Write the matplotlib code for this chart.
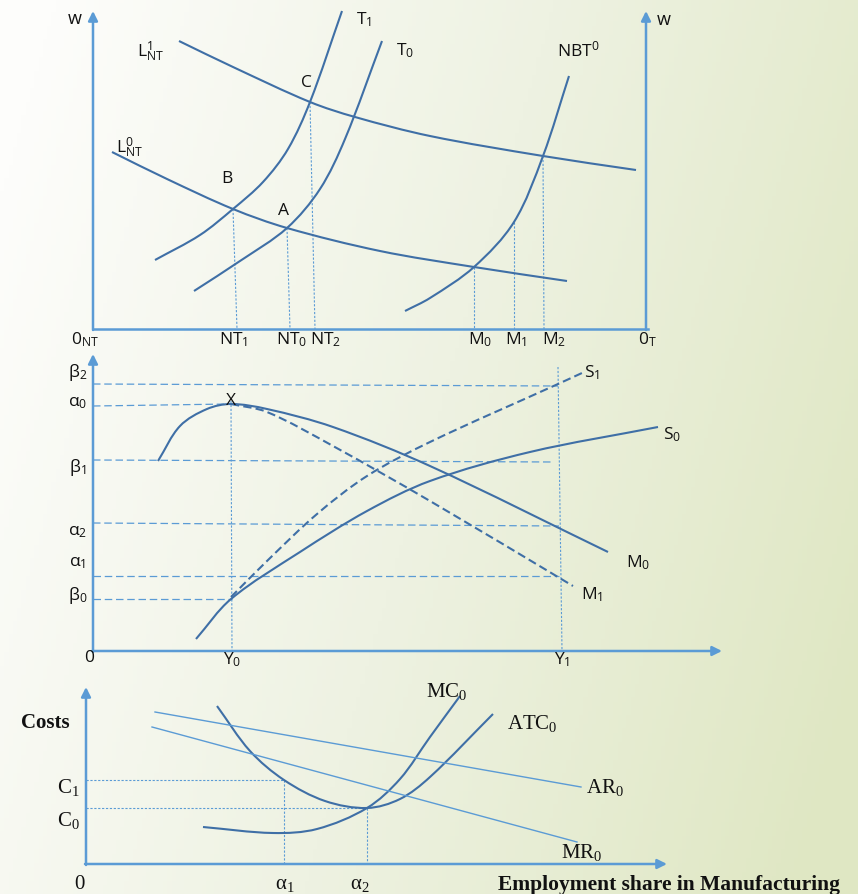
import numpy as np
import matplotlib.pyplot as plt
from matplotlib.path import Path
from matplotlib.patches import PathPatch
from matplotlib.colors import LinearSegmentedColormap

# ---- curve shapes (pixel coords, y grows downward) ----
# panel 1: labour market
T1_X = [155, 200, 233, 263, 288, 310, 342]
T1_Y = [261, 236, 210, 183, 150, 103, 12]
T0_X = [194, 240, 287, 320, 345, 382]
T0_Y = [292, 262, 229, 190, 140, 42]
L1_X = [179, 233, 310, 355, 430, 543, 636]
L1_Y = [42, 68, 103, 118, 137, 157, 171]
L0_X = [112, 167, 233, 287, 380, 474, 567]
L0_Y = [153, 180, 210, 229, 252, 268, 282]
NBT_X = [405, 430, 474, 514, 543, 569]
NBT_Y = [312, 299, 268, 223, 157, 77]

# panel 2: S / M curves
M0_X = [158, 180, 207, 231, 267, 333, 430, 608]
M0_Y = [462, 427, 410, 405, 410, 428, 467, 553]
M1_X = [231, 267, 333, 430, 573]
M1_Y = [405, 413, 447, 502, 587]
S0_X = [196, 231, 300, 367, 430, 530, 658]
S0_Y = [640, 600, 553, 512, 482, 453, 428]
S1_X = [231, 267, 317, 367, 430, 558, 582]
S1_Y = [598, 562, 515, 477, 443, 385, 374]

# panel 3: cost curves
MC_X = [203, 273, 317, 367, 400, 430, 460]
MC_Y = [828, 834, 830, 809, 780, 738, 697]
ATC_X = [217, 250, 284, 325, 367, 400, 430, 493]
ATC_Y = [707, 752, 781, 802, 809, 800, 778, 715]
AR_X, AR_Y = [155, 581], [713, 788]
MR_X, MR_Y = [152, 577], [728, 843]

# guide lines: (x0, y0, x1, y1)
P1_GUIDES = [(233, 210, 237, 330), (287, 229, 290, 330), (310, 103, 315, 330),
             (474, 268, 474, 330), (514, 223, 514, 330), (543, 157, 544, 330)]
P2_HGUIDES = [(93, 385, 558, 387), (93, 407, 230, 405), (93, 461, 554, 463),
              (93, 524, 559, 527), (93, 577, 559, 577), (93, 600, 232, 600)]
P2_VGUIDES = [(231, 402, 232, 652), (558, 368, 562, 652)]
P3_GUIDES = [(86, 781, 284, 781), (86, 809, 367, 809),
             (284, 781, 284, 865), (367, 809, 367, 865)]

CURVE = '#3f6fa6'
AXIS = '#5b9bd5'
SANS = ['Open Sans', 'DejaVu Sans']
SERIF = ['Liberation Serif', 'DejaVu Serif']


def smooth_path(xs, ys):
    # cubic spline through the points, chord-length parametrised
    pts = np.column_stack([xs, ys]).astype(float)
    n = len(pts)
    d = np.hypot(*np.diff(pts, axis=0).T)
    t = np.concatenate([[0], np.cumsum(d)])
    tang = np.zeros_like(pts)
    tang[0] = (pts[1] - pts[0]) / d[0]
    tang[-1] = (pts[-1] - pts[-2]) / d[-1]
    for i in range(1, n - 1):
        tang[i] = (pts[i + 1] - pts[i - 1]) / (t[i + 1] - t[i - 1])
    verts, codes = [pts[0]], [Path.MOVETO]
    for i in range(n - 1):
        h = d[i] / 3
        verts += [pts[i] + tang[i] * h, pts[i + 1] - tang[i + 1] * h, pts[i + 1]]
        codes += [Path.CURVE4] * 3
    return Path(verts, codes)


def curve(ax, xs, ys, ls='-', lw=1.5, color=CURVE):
    ax.add_patch(PathPatch(smooth_path(xs, ys), fill=False, edgecolor=color,
                           lw=lw, linestyle=ls, zorder=3))


def label(ax, x, y, s, size=12.5, family=SANS, weight='normal'):
    ax.text(x, y, s, fontsize=size, family=family, weight=weight,
            ha='center', va='center', color='#111111', zorder=5)


fig = plt.figure(figsize=(8.58, 8.95), dpi=100)
ax = fig.add_axes([0, 0, 1, 1])
ax.set_xlim(0, 858)
ax.set_ylim(895, 0)
ax.axis('off')

# background wash
gx, gy = np.meshgrid(np.linspace(0, 1, 200), np.linspace(0, 1, 200))
grad = np.clip(0.85 * gx + 0.25 * gy - 0.05, 0, 1)
cmap = LinearSegmentedColormap.from_list('bg', ['#fdfdfb', '#eef2e2', '#dfe7c3'])
ax.imshow(grad, cmap=cmap, extent=[0, 858, 895, 0], aspect='auto', zorder=0)


def axis_arrow(x0, y0, x1, y1):
    ax.annotate('', xy=(x1, y1), xytext=(x0, y0),
                arrowprops=dict(arrowstyle='-|>', color=AXIS, lw=1.8,
                                mutation_scale=14, shrinkA=0, shrinkB=0), zorder=2)


axis_arrow(93, 331, 93, 12)
axis_arrow(646, 331, 646, 12)
ax.plot([93, 648], [330, 330], color=AXIS, lw=1.8, zorder=2)
axis_arrow(93, 653, 93, 355)
axis_arrow(92, 652, 722, 652)
axis_arrow(86, 866, 86, 688)
axis_arrow(85, 865, 667, 865)

# guides
for x0, y0, x1, y1 in P1_GUIDES:
    ax.plot([x0, x1], [y0, y1], color=AXIS, lw=0.8, ls=(0, (2, 1.5)), zorder=2)
for x0, y0, x1, y1 in P2_HGUIDES:
    ax.plot([x0, x1], [y0, y1], color=AXIS, lw=0.9, ls=(0, (6, 3)), zorder=2)
for x0, y0, x1, y1 in P2_VGUIDES:
    ax.plot([x0, x1], [y0, y1], color=AXIS, lw=0.8, ls=(0, (2, 1.5)), zorder=2)
for x0, y0, x1, y1 in P3_GUIDES:
    ax.plot([x0, x1], [y0, y1], color=AXIS, lw=0.8, ls=(0, (2, 1.5)), zorder=2)

# curves
curve(ax, T1_X, T1_Y)
curve(ax, T0_X, T0_Y)
curve(ax, L1_X, L1_Y)
curve(ax, L0_X, L0_Y)
curve(ax, NBT_X, NBT_Y)
curve(ax, M0_X, M0_Y)
curve(ax, M1_X, M1_Y, ls=(0, (4, 2)))
curve(ax, S0_X, S0_Y)
curve(ax, S1_X, S1_Y, ls=(0, (4, 2)))
curve(ax, MC_X, MC_Y)
curve(ax, ATC_X, ATC_Y)
ax.plot(AR_X, AR_Y, color=AXIS, lw=1.0, zorder=3)
ax.plot(MR_X, MR_Y, color=AXIS, lw=1.0, zorder=3)

# panel 1 text
label(ax, 75, 19, 'w', 13)
label(ax, 664, 20, 'w', 13)
label(ax, 364, 20, r'$\mathregular{T_1}$')
label(ax, 405, 51, r'$\mathregular{T_0}$')
label(ax, 578, 50, r'$\mathregular{NBT^0}$')
label(ax, 150, 52, r'$\mathregular{L^1_{NT}}$')
label(ax, 129, 148, r'$\mathregular{L^0_{NT}}$')
label(ax, 306, 83, 'C')
label(ax, 227, 179, 'B')
label(ax, 284, 211, 'A')
label(ax, 85, 340, r'$\mathregular{0_{NT}}$')
label(ax, 234, 340, r'$\mathregular{NT_1}$')
label(ax, 292, 340, r'$\mathregular{NT_0}$')
label(ax, 326, 340, r'$\mathregular{NT_2}$')
label(ax, 480, 340, r'$\mathregular{M_0}$')
label(ax, 516, 340, r'$\mathregular{M_1}$')
label(ax, 554, 340, r'$\mathregular{M_2}$')
label(ax, 647, 340, r'$\mathregular{0_T}$')

# panel 2 text
for (ly, s) in [(372, 'β_2'), (403, 'α_0'), (467, 'β_1'), (532, 'α_2'),
                (563, 'α_1'), (596, 'β_0')]:
    label(ax, 78, ly, r'$\mathregular{' + s + '}$')
label(ax, 89, 658, '0')
label(ax, 232, 660, r'$\mathregular{Y_0}$')
label(ax, 562, 660, r'$\mathregular{Y_1}$')
label(ax, 231, 401, 'X')
label(ax, 592, 373, r'$\mathregular{S_1}$')
label(ax, 672, 435, r'$\mathregular{S_0}$')
label(ax, 638, 563, r'$\mathregular{M_0}$')
label(ax, 592, 595, r'$\mathregular{M_1}$')

# panel 3 text
label(ax, 45, 723, 'Costs', 15, SERIF, 'bold')
label(ax, 68, 788, r'$\mathregular{C_1}$', 15, SERIF)
label(ax, 68, 821, r'$\mathregular{C_0}$', 15, SERIF)
label(ax, 79, 885, '0', 15, SERIF)
label(ax, 285, 885, r'$\mathregular{α_1}$', 15, SERIF)
label(ax, 360, 885, r'$\mathregular{α_2}$', 15, SERIF)
label(ax, 447, 692, r'$\mathregular{MC_0}$', 15, SERIF)
label(ax, 532, 723, r'$\mathregular{ATC_0}$', 15, SERIF)
label(ax, 605, 788, r'$\mathregular{AR_0}$', 15, SERIF)
label(ax, 582, 853, r'$\mathregular{MR_0}$', 15, SERIF)
label(ax, 669, 885, 'Employment share in Manufacturing', 15.5, SERIF, 'bold')

fig.savefig('out.png', dpi=100)
